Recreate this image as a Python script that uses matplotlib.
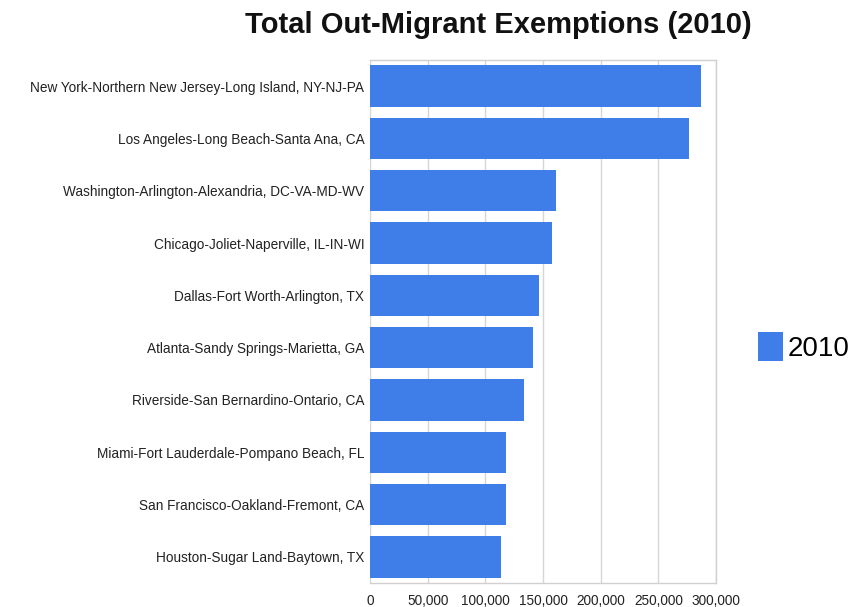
import matplotlib
matplotlib.use("Agg")
import matplotlib.pyplot as plt

categories = [
    "New York-Northern New Jersey-Long Island, NY-NJ-PA",
    "Los Angeles-Long Beach-Santa Ana, CA",
    "Washington-Arlington-Alexandria, DC-VA-MD-WV",
    "Chicago-Joliet-Naperville, IL-IN-WI",
    "Dallas-Fort Worth-Arlington, TX",
    "Atlanta-Sandy Springs-Marietta, GA",
    "Riverside-San Bernardino-Ontario, CA",
    "Miami-Fort Lauderdale-Pompano Beach, FL",
    "San Francisco-Oakland-Fremont, CA",
    "Houston-Sugar Land-Baytown, TX",
]
values_2010 = [287000, 277000, 161000, 158000, 146500, 141000, 133500, 118000, 118000, 113500]
xticks = [0, 50000, 100000, 150000, 200000, 250000, 300000]
xtick_labels = ["0", "50,000", "100,000", "150,000", "200,000", "250,000", "300,000"]

plt.rcParams['font.family'] = ['Liberation Sans', 'DejaVu Sans']

fig = plt.figure(figsize=(8.57, 6.07), dpi=100)
ax = fig.add_axes([370/857, 1 - 583/607, (716 - 370)/857, (583 - 60)/607])

bar_color = "#3f7ee8"
y = list(range(len(categories)))
ax.barh(y, values_2010, height=0.79, color=bar_color, zorder=3, label="2010")
ax.set_ylim(len(categories) - 0.5, -0.5)
ax.set_xlim(0, 300000)
ax.set_yticks(y)
ax.set_yticklabels(categories, fontsize=9.8, color="#222222")
ax.set_xticks(xticks)
ax.set_xticklabels(xtick_labels, fontsize=9.8, color="#222222")
ax.tick_params(axis='both', length=0, pad=4)
ax.tick_params(axis='x', pad=8)
ax.grid(axis='x', color="#d6d6d6", linewidth=1, zorder=0)
for s in ax.spines.values():
    s.set_color("#d0d0d0")
    s.set_linewidth(1)
ax.spines['left'].set_visible(False)

fig.text((222 + 775) / 2 / 857, 1 - 25/607, "Total Out-Migrant Exemptions (2010)", fontsize=21,
         fontweight='bold', ha='center', va='center', color="#111111")

fig.legend(loc='center left', bbox_to_anchor=(747/857, 1 - 347/607), frameon=False,
           fontsize=20, handlelength=0.9, handleheight=1.2, handletextpad=0.15,
           borderaxespad=0)

fig.savefig("out.png", dpi=100, facecolor="white")
